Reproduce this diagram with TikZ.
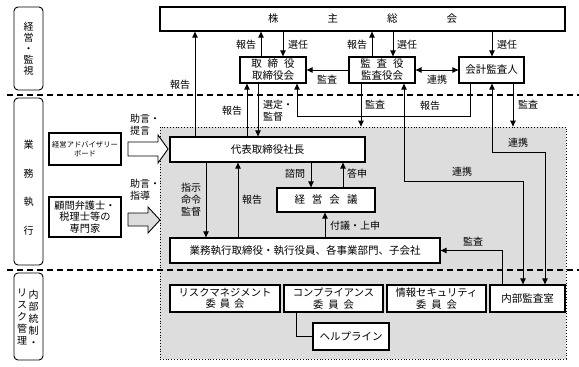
\documentclass[tikz,border=0pt]{standalone}
\usepackage{fontspec}
\setmainfont{Noto Sans CJK JP}
\usetikzlibrary{arrows.meta}
\definecolor{regiongray}{RGB}{221,221,221}
\begin{document}
\begin{tikzpicture}[x=1pt,y=-1pt,
  box/.style={draw, line width=1.3pt, fill=white, inner sep=0pt, align=center, font=\fontsize{10.5}{12}\selectfont},
  lab/.style={inner sep=0pt, align=center, font=\fontsize{10}{12}\selectfont},
  arr/.style={line width=0.9pt, -{Triangle[length=6pt,width=5.5pt]}},
  darr/.style={line width=0.9pt, {Triangle[length=6pt,width=5.5pt]}-{Triangle[length=6pt,width=5.5pt]}},
  ln/.style={line width=0.9pt},
  side/.style={draw, line width=0.9pt, rounded corners=4pt, minimum width=29pt, inner sep=0pt},
  sep/.style={line width=1.1pt, dash pattern=on 6pt off 4pt},
  blockarrow/.style={line width=0.9pt, line join=miter}
]
\useasboundingbox (0,0) rectangle (579,367);

% shaded execution region
\node[draw, dotted, line width=0.8pt, fill=regiongray, minimum width=406pt, minimum height=232pt, inner sep=0pt] (region) at (363,243) {};

% separators
\coordinate (sepL1) at (7,95);
\coordinate (sepR1) at (579,95);
\coordinate (sepL2) at (7,270);
\coordinate (sepR2) at (579,270);
\draw[sep] (sepL1) -- (sepR1);
\draw[sep] (sepL2) -- (sepR2);

% side labels
\node[side, minimum height=83pt, align=center, font=\fontsize{10}{11}\selectfont] (s1) at (28.5,48.5) {経\\営\\・\\監\\視};
\node[side, minimum height=167pt] (s2) at (28.5,181.5) {};
\node[lab, font=\fontsize{10}{28.5}\selectfont] (s2t) at (28.5,187.5) {業\\務\\執\\行};
\node[side, minimum height=87pt] (s3) at (28.5,316.5) {};
\node[lab, font=\fontsize{10}{12}\selectfont] (s3a) at (33.5,318) {内\\部\\統\\制\\・};
\node[lab, font=\fontsize{10}{12}\selectfont] (s3b) at (22,317) {リ\\ス\\ク\\管\\理};

% helper coordinates
\foreach \xx in {195,206,238,247,258,261,283,296,297,311,325,343,361,372,393,404,470,492,502,513,523,545}
  \coordinate (x\xx) at (\xx,0);
\coordinate (y116) at (0,116);
\coordinate (y152) at (0,152);
\coordinate (y181) at (0,181);

% boxes
\node[box, minimum width=405pt, minimum height=24pt] (soukai) at (362.5,19) {株\hspace{49pt}主\hspace{49pt}総\hspace{49pt}会};
\node[box, minimum width=66pt, minimum height=26pt] (tori) at (273,70) {取\hspace{6pt}締\hspace{6pt}役\\取締役会};
\node[box, minimum width=66pt, minimum height=26pt] (kansa) at (382,70) {監\hspace{6pt}査\hspace{6pt}役\\監査役会};
\node[box, minimum width=65pt, minimum height=26pt] (kaikei) at (491.5,70) {会計監査人};
\node[box, minimum width=195pt, minimum height=25pt] (daihyo) at (267.5,149.5) {代表取締役社長};
\node[box, minimum width=98pt, minimum height=24pt] (keiei) at (326,200) {経\hspace{7pt}営\hspace{7pt}会\hspace{7pt}議};
\node[box, minimum width=270pt, minimum height=25pt] (gyomu) at (305,250.5) {業務執行取締役・執行役員、各事業部門、子会社};
\node[box, minimum width=110pt, minimum height=27pt, font=\fontsize{10.3}{11.5}\selectfont] (risk) at (225,298.5) {リスクマネジメント\\委\hspace{4pt}員\hspace{4pt}会};
\node[box, minimum width=99pt, minimum height=27pt, font=\fontsize{10.3}{11.5}\selectfont] (comp) at (333.5,298.5) {コンプライアンス\\委\hspace{5pt}員\hspace{5pt}会};
\node[box, minimum width=99pt, minimum height=27pt, font=\fontsize{10.3}{11.5}\selectfont] (info) at (436.5,298.5) {情報セキュリティ\\委\hspace{5pt}員\hspace{5pt}会};
\node[box, minimum width=75pt, minimum height=27pt] (naibu) at (527.5,298.5) {内部監査室};
\node[box, minimum width=76pt, minimum height=27pt] (help) at (351,336.5) {ヘルプライン};
\node[box, minimum width=72pt, minimum height=32pt, font=\fontsize{7.3}{9.5}\selectfont] (adv) at (85,149) {経営アドバイザリー\\ボード};
\node[box, minimum width=72pt, minimum height=40pt, font=\fontsize{10.2}{11.6}\selectfont] (komon) at (85,217) {顧問弁護士・\\税理士等の\\専門家};

% block arrows
\draw[blockarrow, fill=white] (128,142) -- (158,142) -- (158,135) -- (168,149) -- (158,163) -- (158,156) -- (128,156) -- cycle;
\draw[blockarrow, fill=regiongray] (128,213) -- (148,213) -- (148,207) -- (160,220) -- (148,233) -- (148,226) -- (128,226) -- cycle;

% connectors: shareholders meeting
\draw[arr] (daihyo.north -| x195) -- (soukai.south -| x195);
\draw[arr] (tori.north -| x261) -- (soukai.south -| x261);
\draw[arr] (soukai.south -| x283) -- (tori.north -| x283);
\draw[arr] (kansa.north -| x372) -- (soukai.south -| x372);
\draw[arr] (soukai.south -| x393) -- (kansa.north -| x393);
\draw[arr] (soukai.south -| x492) -- (kaikei.north -| x492);
\draw[arr] (kansa.west) -- (tori.east);
\draw[darr] (kansa.east) -- (kaikei.west);
% board <-> president
\draw[arr] (daihyo.north -| x247) -- (tori.south -| x247);
\draw[arr] (tori.south -| x258) -- (daihyo.north -| x258);
\draw[arr] (kaikei.south -| x470) -- (x470 |- y116) -- (x297 |- y116) -- (tori.south -| x297);
\draw[arr] (kansa.south -| x361) -- (region.north -| x361);
\draw[arr] (kaikei.south -| x513) -- (region.north -| x513);
\draw[darr] (kansa.south -| x404) -- (x404 |- y181) -- (x523 |- y181) -- (naibu.north -| x523);
\draw[darr] (kaikei.south -| x492) -- (x492 |- y152) -- (x545 |- y152) -- (naibu.north -| x545);
\draw[arr] (naibu.north -| x502) -- (x502 |- gyomu.east) -- (gyomu.east);
% execution
\draw[arr] (daihyo.south -| x206) -- (gyomu.north -| x206);
\draw[arr] (gyomu.north -| x238) -- (daihyo.south -| x238);
\draw[arr] (daihyo.south -| x311) -- (keiei.north -| x311);
\draw[arr] (keiei.north -| x343) -- (daihyo.south -| x343);
\draw[arr] (gyomu.north -| x325) -- (keiei.south -| x325);
\draw[ln] (comp.south -| x296) |- (help.west);

% labels
\node[lab] (l1) at (180,85) {報告};
\node[lab] (l2) at (246,45) {報告};
\node[lab] (l3) at (298,45) {選任};
\node[lab] (l4) at (357,45) {報告};
\node[lab] (l5) at (407,45) {選任};
\node[lab] (l6) at (507,45) {選任};
\node[lab] (l7) at (327,80) {監査};
\node[lab] (l8) at (437,80) {連携};
\node[lab] (l9) at (375,105) {監査};
\node[lab] (l10) at (430,106) {報告};
\node[lab] (l11) at (528,105) {監査};
\node[lab] (l12) at (232,111) {報告};
\node[lab, align=left] (l13) at (278,111) {選定・\\監督};
\node[lab, align=left] (l14) at (145,125) {助言・\\提言};
\node[lab, align=left] (l15) at (145,190) {助言・\\指導};
\node[lab] (l16) at (191,200) {指示\\命令\\監督};
\node[lab] (l17) at (252,200) {報告};
\node[lab] (l18) at (295,174) {諮問};
\node[lab] (l19) at (357,174) {答申};
\node[lab] (l20) at (355,226) {付議・上申};
\node[lab] (l21) at (462,172) {連携};
\node[lab] (l22) at (518,143) {連携};
\node[lab] (l23) at (473,242) {監査};
\end{tikzpicture}
\end{document}
